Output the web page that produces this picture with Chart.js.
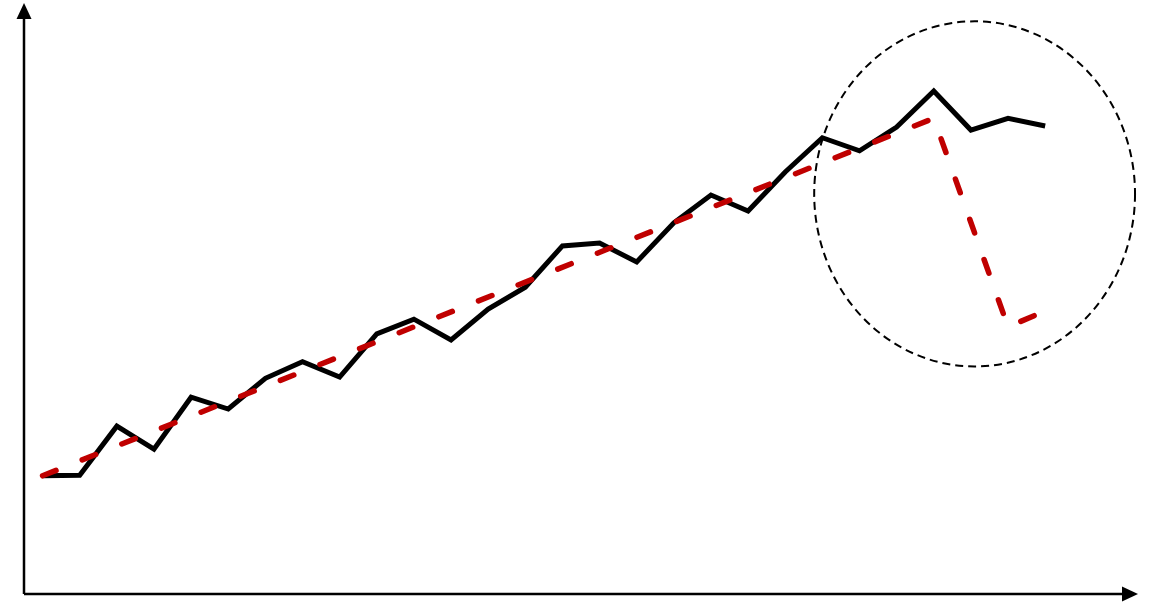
<!DOCTYPE html>
<html>
<head>
<meta charset="utf-8">
<script src="https://cdn.jsdelivr.net/npm/chart.js@4/dist/chart.umd.min.js"></script>
<style>
  html, body { margin: 0; padding: 0; background: #fff; }
  #wrap { width: 1152px; height: 603px; position: relative; }
</style>
</head>
<body>
<div id="wrap"><canvas id="trendChart"></canvas></div>
<script>
// x positions (periods)
const periods = [0, 1, 2, 3, 4, 5, 6, 7, 8, 9, 10, 11, 12, 13, 14, 15, 16, 17, 18, 19, 20, 21, 22, 23, 24, 25, 26, 27];

// actual series (black)
const actual = [20.0, 20.1, 28.4, 24.5, 33.3, 31.3, 36.5, 39.3, 36.7, 44.0, 46.5, 43.0, 48.2, 51.9,
                58.9, 59.4, 56.2, 62.8, 67.5, 64.8, 71.4, 77.2, 75.0, 79.0, 85.1, 78.5, 80.5, 79.2];

// trend / forecast (red dashed) - only the corner points, straight between
const trend = [20.0, null, null, null, null, null, null, null, null, null, null, null, null, null,
               null, null, null, null, null, null, null, null, null, null, 80.5, null, 45.2, 47.9];

// highlighted region (dashed ellipse), in data units
const highlightCenter = [25.1, 67.7];
const highlightRadius = [4.32, 29.2];

const toPoints = arr => periods.map((p, i) => ({ x: p, y: arr[i] }));

// axis lines with arrow heads + the dashed ellipse
const overlay = {
    id: 'overlay',
    afterDatasetsDraw(chart) {
        const { ctx, chartArea, scales } = chart;
        const x = scales.x, y = scales.y;

        ctx.save();
        const cx = x.getPixelForValue(highlightCenter[0]);
        const cy = y.getPixelForValue(highlightCenter[1]);
        const rx = Math.abs(x.getPixelForValue(highlightCenter[0] + highlightRadius[0]) - cx);
        const ry = Math.abs(y.getPixelForValue(highlightCenter[1] + highlightRadius[1]) - cy);
        ctx.beginPath();
        ctx.ellipse(cx, cy, rx, ry, 0, 0, Math.PI * 2);
        ctx.setLineDash([8, 5]);
        ctx.lineWidth = 2;
        ctx.strokeStyle = '#000';
        ctx.stroke();
        ctx.restore();

        const left = chartArea.left, bottom = chartArea.bottom;
        ctx.save();
        ctx.strokeStyle = '#000';
        ctx.fillStyle = '#000';
        ctx.lineWidth = 2.5;
        ctx.beginPath();
        ctx.moveTo(left, bottom);
        ctx.lineTo(left, chartArea.top + 14);
        ctx.moveTo(left, bottom);
        ctx.lineTo(chartArea.right - 14, bottom);
        ctx.stroke();

        // up arrow
        ctx.beginPath();
        ctx.moveTo(left, chartArea.top);
        ctx.lineTo(left - 7.5, chartArea.top + 16);
        ctx.lineTo(left + 7.5, chartArea.top + 16);
        ctx.closePath();
        ctx.fill();

        // right arrow
        ctx.beginPath();
        ctx.moveTo(chartArea.right, bottom);
        ctx.lineTo(chartArea.right - 16, bottom - 7.5);
        ctx.lineTo(chartArea.right - 16, bottom + 7.5);
        ctx.closePath();
        ctx.fill();
        ctx.restore();
    }
};

new Chart(document.getElementById('trendChart').getContext('2d'), {
    type: 'line',
    data: {
        datasets: [{
            label: 'Actual',
            data: toPoints(actual),
            borderColor: '#000',
            borderWidth: 5,
            borderJoinStyle: 'miter',
            pointRadius: 0,
            tension: 0,
            order: 2
        }, {
            label: 'Trend',
            data: toPoints(trend),
            borderColor: '#c00000',
            borderWidth: 5.5,
            borderDash: [14.5, 28.2],
            borderCapStyle: 'round',
            pointRadius: 0,
            tension: 0,
            spanGaps: true,
            order: 1
        }]
    },
    options: {
        responsive: true,
        maintainAspectRatio: false,
        animation: false,
        layout: { padding: { left: 24, right: 14, top: 3, bottom: 9 } },
        plugins: { legend: { display: false }, tooltip: { enabled: false } },
        scales: {
            x: { type: 'linear', min: -0.5, max: 29.5, display: false },
            y: { type: 'linear', min: 0, max: 100, display: false }
        }
    },
    plugins: [overlay]
});
</script>
</body>
</html>
